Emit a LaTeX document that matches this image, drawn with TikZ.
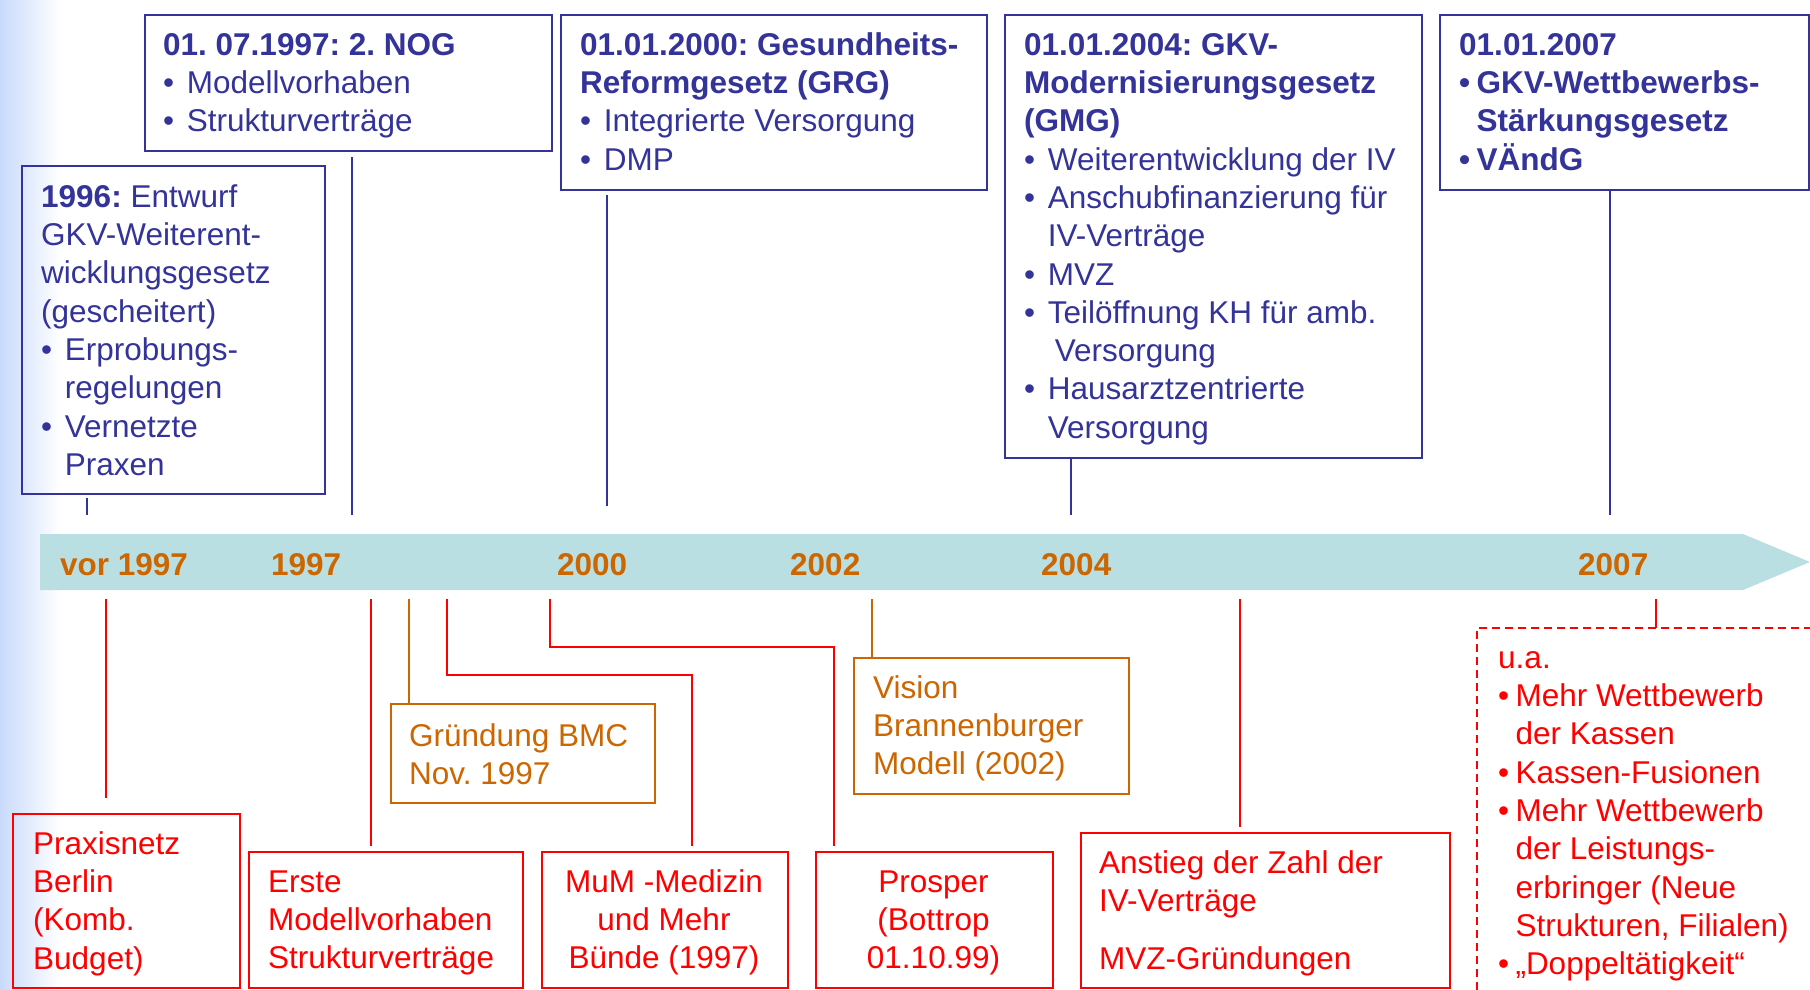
\documentclass[tikz,border=0pt]{standalone}
\usepackage{fontspec}
\setmainfont{Liberation Sans}
\usetikzlibrary{calc}
\frenchspacing
\definecolor{lawblue}{RGB}{51,51,153}
\definecolor{evred}{RGB}{255,0,0}
\definecolor{evorange}{RGB}{204,102,0}
\definecolor{bandteal}{RGB}{185,223,227}
\definecolor{edgeblue}{RGB}{200,218,252}
% bullets with a normal gap and a narrow gap, plus matching indents
\newcommand\tlbullet{•\hspace{0.4em}}
\newcommand\tlindent{\hphantom{•\hspace{0.4em}}}
\newcommand\tlbulletn{•\hspace{0.2em}}
\newcommand\tlindentn{\hphantom{•\hspace{0.2em}}}
\newcommand\tlstrut{\rule{0pt}{25pt}}
\begin{document}
\begin{tikzpicture}[x=1pt,y=-1pt,
  txt/.style={inner sep=0pt, anchor=north west, align=left,
    font=\fontsize{31.5}{38.3}\selectfont},
  ctxt/.style={txt, anchor=north, align=center},
  frame/.style={draw, line width=2pt, anchor=north west, inner sep=0pt},
  bluebox/.style={frame, draw=lawblue},
  redbox/.style={frame, draw=evred},
  orangebox/.style={frame, draw=evorange},
  bline/.style={draw=lawblue, line width=2pt},
  rline/.style={draw=evred, line width=2pt},
  oline/.style={draw=evorange, line width=2pt},
  yearlabel/.style={inner sep=0pt, anchor=base west, text=evorange,
    font=\fontsize{31.5}{38.3}\selectfont\bfseries}
]
\useasboundingbox (0,0) rectangle (1810,990);
% soft blue edge on the left
\shade[left color=edgeblue, right color=white] (0,0) rectangle (60,990);

% timeline band
\fill[bandteal] (40,534) -- (1743,534) -- (1810,562) -- (1743,590) -- (40,590) -- cycle;
\node[yearlabel] (y0) at (60,575) {vor 1997};
\node[yearlabel] (y1) at (271,575) {1997};
\node[yearlabel] (y2) at (557,575) {2000};
\node[yearlabel] (y3) at (790,575) {2002};
\node[yearlabel] (y4) at (1041,575) {2004};
\node[yearlabel] (y5) at (1578,575) {2007};

% ---------- laws above the timeline ----------
\node[bluebox, minimum width=303pt, minimum height=328pt] (law96) at (21,165) {};
\node[txt, text=lawblue] (law96t) at (41,182) {\tlstrut\textbf{1996:} Entwurf\\
GKV-Weiterent-\\
wicklungsgesetz\\
(gescheitert)\\
\tlbullet Erprobungs-\\
\tlindent regelungen\\
\tlbullet Vernetzte\\
\tlindent Praxen};

\node[bluebox, minimum width=407.5pt, minimum height=136pt] (law97) at (143.5,14) {};
\node[txt, text=lawblue] (law97t) at (163,30) {\tlstrut\textbf{01. 07.1997: 2. NOG}\\
\tlbullet Modellvorhaben\\
\tlbullet Strukturverträge};

\node[bluebox, minimum width=426pt, minimum height=175pt] (law00) at (560,14) {};
\node[txt, text=lawblue] (law00t) at (580,30) {\tlstrut\textbf{01.01.2000: Gesundheits-}\\
\textbf{Reformgesetz (GRG)}\\
\tlbullet Integrierte Versorgung\\
\tlbullet DMP};

\node[bluebox, minimum width=417pt, minimum height=443pt] (law04) at (1004,14) {};
\node[txt, text=lawblue] (law04t) at (1024,30) {\tlstrut\textbf{01.01.2004: GKV-}\\
\textbf{Modernisierungsgesetz}\\
\textbf{(GMG)}\\
\tlbullet Weiterentwicklung der IV\\
\tlbullet Anschubfinanzierung für\\
\tlindent IV-Verträge\\
\tlbullet MVZ\\
\tlbullet Teilöffnung KH für amb.\\
\tlindent\hspace{7pt}Versorgung\\
\tlbullet Hausarztzentrierte\\
\tlindent Versorgung};

\node[bluebox, minimum width=369pt, minimum height=175pt] (law07) at (1439,14) {};
\node[txt, text=lawblue, font=\fontsize{31.5}{38.3}\selectfont\bfseries] (law07t) at (1459,30) {\tlstrut 01.01.2007\\
\tlbulletn GKV-Wettbewerbs-\\
\tlindentn Stärkungsgesetz\\
\tlbulletn VÄndG};

% ends of the upper connectors, just above the band
\coordinate (k96) at (87,515);
\coordinate (k97) at (352,515);
\coordinate (k00) at (607,506);
\coordinate (k04) at (1071,515);
\coordinate (k07) at (1610,515);
\draw[bline, shorten <=3pt] (law96.south -| k96) -- (k96);
\draw[bline, shorten <=5pt] (law97.south -| k97) -- (k97);
\draw[bline, shorten <=4pt] (law00.south -| k00) -- (k00);
\draw[bline] (law04.south -| k04) -- (k04);
\draw[bline] (law07.south -| k07) -- (k07);

% ---------- developments below the timeline ----------
\node[redbox, minimum width=227.5pt, minimum height=174pt] (praxis) at (11.5,813) {};
\node[txt, text=evred] (praxist) at (33,829) {\tlstrut Praxisnetz\\
Berlin\\
(Komb.\\
Budget)};

\node[redbox, minimum width=274pt, minimum height=136pt] (erste) at (248,851) {};
\node[txt, text=evred] (erstet) at (268,867) {\tlstrut Erste\\
Modellvorhaben\\
Strukturverträge};

\node[orangebox, minimum width=264pt, minimum height=99pt] (bmc) at (390,703) {};
\node[txt, text=evorange] (bmct) at (409,721) {\tlstrut Gründung BMC\\
Nov. 1997};

\node[redbox, minimum width=246pt, minimum height=136pt] (mum) at (541,851) {};
\node[ctxt, text=evred] (mumt) at (664,867) {\tlstrut MuM -Medizin\\
und Mehr\\
Bünde (1997)};

\node[redbox, minimum width=237pt, minimum height=136pt] (prosper) at (815,851) {};
\node[ctxt, text=evred] (prospert) at (933.5,867) {\tlstrut Prosper\\
(Bottrop\\
01.10.99)};

\node[orangebox, minimum width=275pt, minimum height=136pt] (vision) at (853,657) {};
\node[txt, text=evorange] (visiont) at (873,673) {\tlstrut Vision\\
Brannenburger\\
Modell (2002)};

\node[redbox, minimum width=369pt, minimum height=155pt] (anstieg) at (1080,832) {};
\node[txt, text=evred] (anstiegt) at (1099,848) {\tlstrut Anstieg der Zahl der\\
IV-Verträge\\[19.5pt]
MVZ-Gründungen};

% open dashed frame for 2007
\coordinate (ua) at (1477,628);
\coordinate (uaright) at (1812,628);
\coordinate (uabottom) at (1477,992);
\draw[evred, line width=2pt, dash pattern=on 8pt off 5pt] (uaright) -- (ua) -- (uabottom);
\node[txt, text=evred] (uat) at (1498,643) {\tlstrut u.a.\\
\tlbulletn Mehr Wettbewerb\\
\tlindentn der Kassen\\
\tlbulletn Kassen-Fusionen\\
\tlbulletn Mehr Wettbewerb\\
\tlindentn der Leistungs-\\
\tlindentn erbringer (Neue\\
\tlindentn Strukturen, Filialen)\\
\tlbulletn „Doppeltätigkeit“};

% starts of the lower connectors, just below the band
\coordinate (s1) at (106,599);
\coordinate (s2) at (371,599);
\coordinate (s3) at (409,599);
\coordinate (s4) at (447,599);
\coordinate (s4b) at (692,675);
\coordinate (s5) at (550,599);
\coordinate (s5b) at (834,647);
\coordinate (s6) at (872,599);
\coordinate (s7) at (1240,599);
\coordinate (s8) at (1656,599);
\draw[rline, shorten >=15pt] (s1) -- (s1 |- praxis.north);
\draw[rline, shorten >=5pt] (s2) -- (s2 |- erste.north);
\draw[oline] (s3) -- (s3 |- bmc.north);
\draw[rline, shorten >=5pt] (s4) |- (s4b) -- (s4b |- mum.north);
\draw[rline, shorten >=5pt] (s5) |- (s5b) -- (s5b |- prosper.north);
\draw[oline] (s6) -- (s6 |- vision.north);
\draw[rline, shorten >=5pt] (s7) -- (s7 |- anstieg.north);
\draw[rline] (s8) -- (s8 |- ua);
\end{tikzpicture}
\end{document}
